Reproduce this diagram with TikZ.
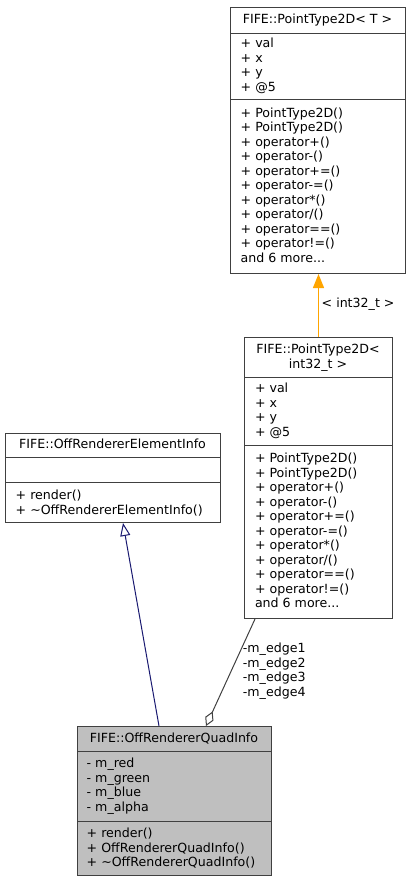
\documentclass[tikz,border=0pt]{standalone}
\usepackage{fontspec}
\setmainfont{DejaVu Sans}
\usepackage{tikz}
\usetikzlibrary{arrows.meta}
\definecolor{boxedge}{HTML}{404040}
\definecolor{quadfill}{HTML}{BFBFBF}
\definecolor{inhblue}{HTML}{191970}
\definecolor{tmplorange}{HTML}{FFA500}

\begin{document}
\begin{tikzpicture}[x=1pt, y=-1pt,
          every node/.style={inner sep=0pt, font=\fontsize{12.6}{14.5}\selectfont},
          classbox/.style={draw=boxedge, line width=1pt, anchor=north west},
          sepline/.style={draw=boxedge, line width=1pt},
          classname/.style={anchor=base},
          member/.style={anchor=base west},
          tmplline/.style={draw=tmplorange, line width=1.2pt, -{Triangle[length=14pt, width=11pt]}},
          inhline/.style={draw=inhblue, line width=1pt, -{Triangle[open, length=13pt, width=10pt]}},
          aggline/.style={draw=boxedge, line width=1pt, {Diamond[open, length=16pt, width=9pt]}-}
        ]
        \useasboundingbox (0,0) rectangle (411,881);

        % FIFE::PointType2D< T >
        \node[classbox, minimum width=175pt, minimum height=266pt] (pt2d) at (230,7) {};
        \draw[sepline] (pt2d.west |- 0,33) -- (pt2d.east |- 0,33);
        \draw[sepline] (pt2d.west |- 0,99) -- (pt2d.east |- 0,99);
        \node[classname] (pt2dname) at (317.5,23.5) {FIFE::PointType2D< T >};
        \foreach \m [count=\i from 0] in {+ val, + x, + y, + @5}
          \node[member] (pt2da\i) at (240.5,47.8+14.45*\i) {\m};
        \foreach \m [count=\i from 0] in {+ PointType2D(), + PointType2D(), + operator+(), + operator-(),
            + operator+=(), + operator-=(), + operator*(), + operator/(), + operator==(),
            + operator!=()}
          \node[member] (pt2dm\i) at (240.5,117.2+14.5*\i) {\m};
        \node[member] (pt2dmore) at (240.5,262.2) {and 6 more...};

        % FIFE::PointType2D< int32_t >
        \node[classbox, minimum width=148pt, minimum height=281pt] (pt2dint) at (244,337) {};
        \draw[sepline] (pt2dint.west |- 0,377) -- (pt2dint.east |- 0,377);
        \draw[sepline] (pt2dint.west |- 0,445) -- (pt2dint.east |- 0,445);
        \node[classname] (pt2dintname) at (318,353.5) {FIFE::PointType2D<};
        \node[classname] (pt2dintarg) at (318,368) {int32\_t >};
        \foreach \m [count=\i from 0] in {+ val, + x, + y, + @5}
          \node[member] (pt2dinta\i) at (254.8,392.5+14.5*\i) {\m};
        \foreach \m [count=\i from 0] in {+ PointType2D(), + PointType2D(), + operator+(), + operator-(),
            + operator+=(), + operator-=(), + operator*(), + operator/(), + operator==(),
            + operator!=()}
          \node[member] (pt2dintm\i) at (254.8,462.5+14.5*\i) {\m};
        \node[member] (pt2dintmore) at (254.8,607.5) {and 6 more...};

        % FIFE::OffRendererElementInfo
        \node[classbox, minimum width=215pt, minimum height=89pt] (elem) at (5,433) {};
        \draw[sepline] (elem.west |- 0,457) -- (elem.east |- 0,457);
        \draw[sepline] (elem.west |- 0,482) -- (elem.east |- 0,482);
        \node[classname] (elemname) at (112.5,448.5) {FIFE::OffRendererElementInfo};
        \node[member] (elemm0) at (15.5,499.5) {+ render()};
        \node[member] (elemm1) at (15.5,514) {+ \textasciitilde OffRendererElementInfo()};

        % FIFE::OffRendererQuadInfo
        \node[classbox, fill=quadfill, minimum width=194pt, minimum height=149pt] (quad) at (77,726) {};
        \draw[sepline] (quad.west |- 0,751) -- (quad.east |- 0,751);
        \draw[sepline] (quad.west |- 0,821) -- (quad.east |- 0,821);
        \node[classname] (quadname) at (174,742.5) {FIFE::OffRendererQuadInfo};
        \foreach \m [count=\i from 0] in {- m\_red, - m\_green, - m\_blue, - m\_alpha}
          \node[member] (quada\i) at (86.5,767.5+14.5*\i) {\m};
        \node[member] (quadm0) at (86.5,837.5) {+ render()};
        \node[member] (quadm1) at (86.5,852) {+ OffRendererQuadInfo()};
        \node[member] (quadm2) at (86.5,866.5) {+ \textasciitilde OffRendererQuadInfo()};

        % connectors
        \draw[tmplline] (pt2dint.north) -- (pt2dint.north |- pt2d.south);
        \node[member] (tmpllabel) at (321.5,307.5) {< int32\_t >};
        \draw[inhline] ([xshift=82pt]quad.north west) -- ([xshift=118pt]elem.south west);
        \draw[aggline] ([xshift=129pt]quad.north west) -- ([xshift=11pt]pt2dint.south west);
        \foreach \k in {1,...,4}
          \node[member] (edge\k) at (242.7,638.3+14.5*\k) {-m\_edge\k};
      \end{tikzpicture}
\end{document}
